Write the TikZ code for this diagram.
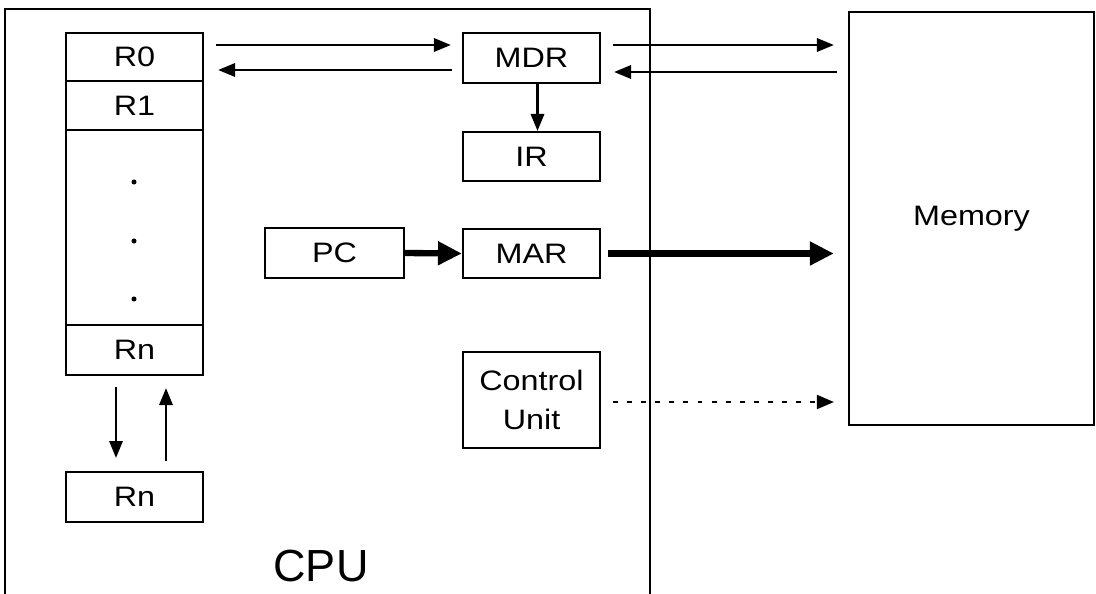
\documentclass[tikz,border=0pt]{standalone}
\usepackage{fontspec}
\setmainfont{Liberation Sans}
\newfontfamily\boxfont{Liberation Sans}[FakeStretch=1.15]
\usetikzlibrary{arrows.meta,calc}

\begin{document}
\begin{tikzpicture}[x=0.025cm,y=-0.025cm,
    cpubox/.style={draw,line width=1.6pt,inner sep=0pt,align=center,
        font=\boxfont\fontsize{20}{27.5}\selectfont},
    regbox/.style={cpubox,minimum width=3.425cm},
    datalink/.style={-{Triangle[length=12pt,width=9.5pt]},line width=1.5pt},
    addrlink/.style={-{Triangle[length=17pt,width=16pt]},line width=4.5pt},
    ctrllink/.style={-{Triangle[length=12pt,width=10pt]},line width=1pt,
        dash pattern=on 3.5pt off 6.5pt}
]
\useasboundingbox (0,0) rectangle (1096,593);
% processor outline, open at the bottom
\node[draw,line width=1.4pt,minimum width=16.125cm,minimum height=14.85cm]
    (cpu) at (327.5,306) {};
\node[font=\fontsize{32}{36}\selectfont] (cpulabel) at (321,566) {CPU};
% register file
\node[regbox,minimum height=1.2cm] (r0) at (134.5,57) {R0};
\node[regbox,minimum height=1.225cm] (r1) at (134.5,105.5) {R1};
\node[regbox,minimum height=4.875cm] (rdots) at (134.5,227.5) {};
\node[regbox,minimum height=1.25cm] (rn) at (134.5,350) {Rn};
\node[regbox,minimum height=1.25cm] (rsave) at (134.5,497) {Rn};
\foreach \y in {182,241,299}
    \fill (134,\y) circle (1.8pt);
% special registers
\node[regbox,minimum height=1.25cm] (mdr) at (531.5,58) {MDR};
\node[regbox,minimum height=1.225cm] (ir) at (531.5,156.5) {IR};
\node[cpubox,minimum width=3.475cm,minimum height=1.25cm] (pc) at (334.5,253) {PC};
\node[regbox,minimum height=1.225cm] (mar) at (531.5,253.5) {MAR};
\node[regbox,minimum height=2.4cm] (cu) at (531.5,400) {Control\\Unit};
\node[cpubox,minimum width=6.125cm,minimum height=10.325cm] (mem) at (971.5,218.5) {Memory};
% data paths
\draw[datalink] ($(r0.east)+(12,-12)$) -- ($(mdr.west)+(-11,-13)$);
\draw[datalink] ($(mdr.west)+(-10,12)$) -- ($(r0.east)+(14,13)$);
\draw[datalink] ($(mdr.east)+(12,-13)$) -- ($(mdr.east -| mem.west)+(-14,-13)$);
\draw[datalink] ($(mdr.east -| mem.west)+(-11,14)$) -- ($(mdr.east)+(13,14)$);
\draw[datalink] ($(mdr.south)+(6,0)$) -- ($(ir.north)+(6,0)$);
\draw[datalink] ($(rn.south)+(-18.5,11)$) -- ($(rsave.north)+(-18.5,-13)$);
\draw[datalink] ($(rsave.north)+(31.5,-10)$) -- ($(rn.south)+(31.5,12)$);
% address path
\draw[addrlink] (pc.east) -- (mar.west);
\draw[addrlink] ($(mar.east)+(7,0)$) -- ($(mar.east -| mem.west)+(-14,0)$);
% control line
\draw[ctrllink] ($(cu.east)+(12,2)$) -- ($(cu.east -| mem.west)+(-14,2)$);
\end{tikzpicture}
\end{document}
